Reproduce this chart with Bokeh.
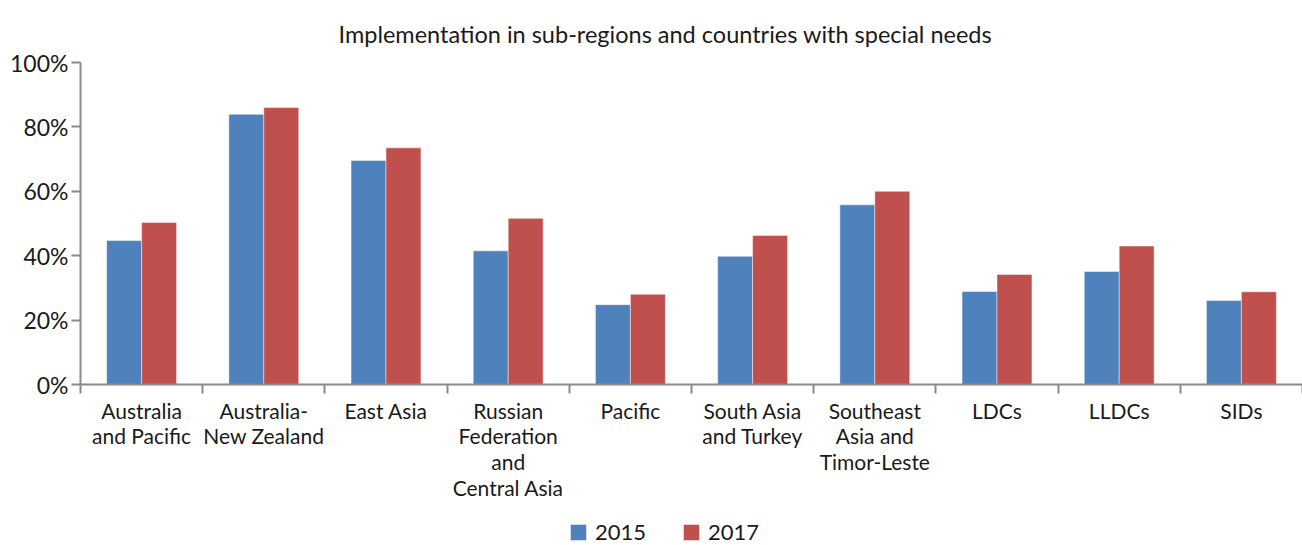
from bokeh.plotting import figure
from bokeh.layouts import column
from bokeh.models import (ColumnDataSource, Range1d, FixedTicker, NumeralTickFormatter,
                          Legend, LegendItem)
from bokeh.transform import dodge
from bokeh.embed import file_html
from bokeh.resources import INLINE

categories = ["Australia\nand Pacific", "Australia-\nNew Zealand", "East Asia",
              "Russian\nFederation\nand\nCentral Asia", "Pacific", "South Asia\nand Turkey",
              "Southeast\nAsia and\nTimor-Leste", "LDCs", "LLDCs", "SIDs"]
v2015 = [0.447, 0.839, 0.696, 0.415, 0.248, 0.398, 0.558, 0.289, 0.351, 0.261]
v2017 = [0.503, 0.860, 0.735, 0.516, 0.280, 0.463, 0.600, 0.342, 0.430, 0.288]
series = ["2015", "2017"]
colors = ["#4F81BD", "#C0504D"]
y_ticks = [0, 0.2, 0.4, 0.6, 0.8, 1.0]
title_text = "Implementation in sub-regions and countries with special needs"

FONT = "Lato"
AXIS = "#8a8a8a"
TXT = "#1a1a1a"

n = len(categories)
centers = [i + 0.5 for i in range(n)]
bounds = list(range(n + 1))

src = ColumnDataSource(dict(x=centers, cat=categories, v2015=v2015, v2017=v2017))

bw = 0.286
bar_style = dict(width=bw, source=src, line_color="white", line_alpha=0.45, line_width=1)

# ---------------- main chart ----------------
p = figure(x_range=Range1d(0, n), y_range=Range1d(0, 1),
           width=1302, height=505, output_backend="svg", toolbar_location=None,
           min_border_left=80, min_border_right=0, min_border_top=62, min_border_bottom=121,
           title=title_text)
p.outline_line_color = None
p.xgrid.visible = False
p.ygrid.visible = False

p.vbar(x=dodge("x", -bw / 2), top="v2015", fill_color=colors[0], **bar_style)
p.vbar(x=dodge("x", bw / 2), top="v2017", fill_color=colors[1], **bar_style)

# y axis
ya = p.yaxis[0]
ya.ticker = FixedTicker(ticks=y_ticks)
ya.formatter = NumeralTickFormatter(format="0%")
ya.axis_line_color = AXIS
ya.axis_line_width = 2
ya.major_tick_line_color = AXIS
ya.major_tick_line_width = 2
ya.major_tick_in = 0
ya.major_tick_out = 9
ya.minor_tick_line_color = None
ya.major_label_text_font = FONT
ya.major_label_text_font_size = "23px"
ya.major_label_text_color = TXT
ya.major_label_standoff = 3

# x axis: labels at category centres, tick marks at category boundaries
xa = p.xaxis[0]
xa.ticker = FixedTicker(ticks=centers, minor_ticks=bounds)
xa.major_label_overrides = {c: lab for c, lab in zip(centers, categories)}
xa.axis_line_color = AXIS
xa.axis_line_width = 2
xa.major_tick_line_color = None
xa.major_tick_in = 0
xa.major_tick_out = 0
xa.minor_tick_line_color = AXIS
xa.minor_tick_line_width = 2
xa.minor_tick_in = 0
xa.minor_tick_out = 9
xa.major_label_text_font = FONT
xa.major_label_text_font_size = "21px"
xa.major_label_text_line_height = 1.03
xa.major_label_text_color = TXT
xa.major_label_standoff = 4

p.title.align = "left"
p.title.offset = 258
p.title.text_font = FONT
p.title.text_font_size = "23.5px"
p.title.text_font_style = "normal"
p.title.text_color = TXT
p.title.standoff = 30

# ---------------- legend strip ----------------
lg = figure(x_range=Range1d(0, n), y_range=Range1d(2, 3), width=1302, height=40,
            output_backend="svg", toolbar_location=None,
            x_axis_location=None, y_axis_location=None,
            min_border_left=0, min_border_right=0, min_border_top=0, min_border_bottom=0)
lg.outline_line_color = None
lg.xgrid.visible = False
lg.ygrid.visible = False
l1 = lg.vbar(x="x", top="v2015", fill_color=colors[0], **bar_style)
l2 = lg.vbar(x="x", top="v2017", fill_color=colors[1], **bar_style)

legend = Legend(items=[LegendItem(label=series[0], renderers=[l1]),
                       LegendItem(label=series[1], renderers=[l2])],
                orientation="horizontal", location=(488, 0),
                border_line_color=None, background_fill_alpha=0,
                glyph_width=20, glyph_height=20, spacing=35, padding=0, margin=0,
                label_text_font=FONT, label_text_font_size="22px", label_text_color=TXT,
                label_standoff=7)
lg.add_layout(legend, "center")

open("out.html", "w").write(file_html(column(p, lg, spacing=0), INLINE))
